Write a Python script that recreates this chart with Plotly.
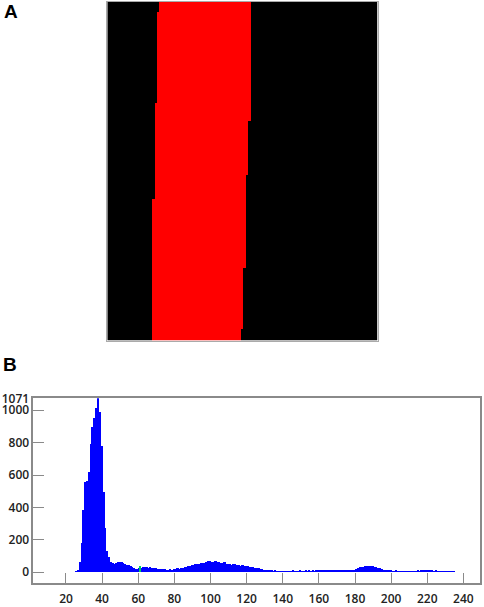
import numpy as np
import plotly.graph_objects as go

# panel A: segmentation mask (pixel grid), band edges per row block
img_w = 270
img_h = 338
band_rows_left = [0, 10, 101, 197]
band_left = [52, 50, 48, 45]
band_rows_right = [0, 119, 173, 266, 327]
band_right = [144, 141, 139, 136, 134]

# panel B: intensity histogram
bin_start = 26
counts = [
    4, 10, 62, 180, 385, 555, 560, 620, 790, 895,
    950, 1010, 1071, 990, 780, 495, 270, 130, 95, 62,
    56, 52, 55, 60, 64, 62, 56, 50, 46, 42,
    36, 31, 26, 21, 18, 22, 26, 30, 28, 32,
    27, 29, 24, 26, 22, 20, 18, 21, 17, 16,
    15, 14, 16, 14, 17, 19, 22, 20, 25, 23,
    28, 31, 35, 40, 43, 46, 48, 52, 50, 55,
    53, 58, 62, 66, 70, 64, 62, 67, 60, 63,
    57, 54, 60, 52, 50, 47, 44, 48, 50, 43,
    41, 39, 44, 37, 35, 34, 31, 29, 32, 27,
    24, 23, 21, 18, 15, 12, 10, 8, 7, 6,
    8, 6, 5, 6, 5, 4, 5, 4, 6, 5,
    7, 5, 4, 6, 7, 5, 6, 8, 6, 7,
    5, 8, 6, 7, 9, 8, 7, 9, 8, 10,
    9, 11, 9, 10, 8, 10, 12, 11, 13, 12,
    14, 12, 13, 11, 14, 16, 22, 28, 33, 30,
    36, 34, 39, 35, 37, 33, 30, 27, 22, 16,
    12, 9, 8, 7, 8, 6, 5, 7, 6, 5,
    6, 4, 5, 6, 5, 4, 5, 6, 5, 7,
    6, 8, 9, 7, 10, 9, 8, 7, 6, 7,
    5, 6, 4, 5, 4, 3, 4, 3, 2, 2,
]
bins = list(range(bin_start, bin_start + len(counts)))
marker_bin = [61]
marker_count = [40]
x_ticks = list(range(20, 241, 20))
y_ticks = [0, 200, 400, 600, 800, 1000, 1071]


def edge_for_rows(starts, cols, n):
    out = np.zeros(n)
    for i, s in enumerate(starts):
        out[s:] = cols[i]
    return out


left = edge_for_rows(band_rows_left, band_left, img_h)
right = edge_for_rows(band_rows_right, band_right, img_h)
cols = np.arange(img_w)
mask = ((cols[None, :] >= left[:, None]) & (cols[None, :] < right[:, None])).astype(int)

W, H = 484, 607
fig = go.Figure()

fig.add_trace(go.Heatmap(
    z=mask, x=cols, y=np.arange(img_h),
    colorscale=[[0, "#000000"], [1, "#ff0000"]],
    showscale=False, zsmooth=False, hoverinfo="skip",
    xaxis="x2", yaxis="y2"))

fig.add_trace(go.Bar(
    x=bins, y=counts, width=1.0,
    marker=dict(color="#0000ff", line=dict(width=0)),
    xaxis="x", yaxis="y"))
fig.add_trace(go.Bar(
    x=marker_bin, y=marker_count, width=0.5,
    marker=dict(color="#00cc66", line=dict(width=0)),
    xaxis="x", yaxis="y"))

axis_style = dict(showgrid=False, zeroline=False, showline=True, mirror=True,
                  automargin=False,
                  linecolor="#8a8a8a", linewidth=1.5, ticks="inside",
                  ticklen=11, tickcolor="#8a8a8a", tickwidth=1.2,
                  tickfont=dict(family="Open Sans", size=12, color="#222", weight=600))
img_axis = dict(showticklabels=False, ticks="", showgrid=False, zeroline=False,
                automargin=False,
                showline=True, mirror=True, linecolor="#aaaaaa", linewidth=1)

fig.update_layout(
    width=W, height=H,
    margin=dict(l=0, r=0, t=0, b=0, autoexpand=False),
    paper_bgcolor="white", plot_bgcolor="white",
    showlegend=False, barmode="overlay", bargap=0,
    xaxis=dict(domain=[33.3 / W, 480 / W], range=[1.9, 249.2], anchor="y",
               tickvals=x_ticks, ticklabelstandoff=4, **axis_style),
    yaxis=dict(domain=[1 - 583.3 / H, 1 - 398.3 / H], range=[-68, 1074], anchor="x",
               tickvals=y_ticks, **axis_style),
    xaxis2=dict(domain=[107.3 / W, 377.7 / W], range=[-0.5, img_w - 0.5],
                anchor="y2", **img_axis),
    yaxis2=dict(domain=[1 - 340.5 / H, 1 - 1.5 / H], range=[img_h - 0.5, -0.5],
                anchor="x2", **img_axis),
    annotations=[
        dict(text="<b>A</b>", x=2 / W, y=1 + 1 / H, xref="paper", yref="paper",
             xanchor="left", yanchor="top", showarrow=False,
             font=dict(family="Liberation Sans", size=19, color="black")),
        dict(text="<b>B</b>", x=1 / W, y=1 - 352 / H, xref="paper", yref="paper",
             xanchor="left", yanchor="top", showarrow=False,
             font=dict(family="Liberation Sans", size=19, color="black")),
    ],
)

fig.write_html("out.html", config={"displayModeBar": False},
               post_script="document.body.style.margin='0';")
